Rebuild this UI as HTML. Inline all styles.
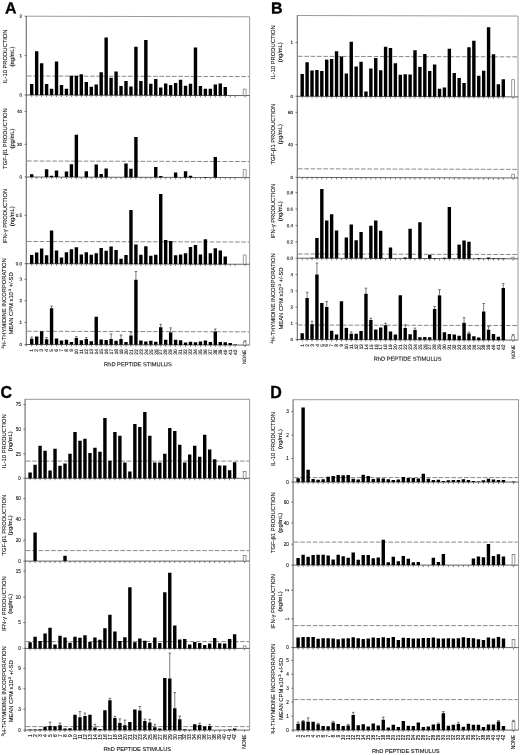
<!DOCTYPE html>
<html lang="en">
<head>
<meta charset="utf-8">
<title>RhD peptide stimulus figure</title>
<style>
html,body{margin:0;padding:0;background:#fff;}
body{width:520px;height:755px;overflow:hidden;}
svg{display:block;filter:blur(.35px);}
text{font-family:"Liberation Sans",Arial,Helvetica,sans-serif;fill:#111;stroke:#111;stroke-width:.1;}
.fr{fill:none;stroke:#6e6e6e;stroke-width:.7;}
.ax{fill:none;stroke:#727272;stroke-width:1.15;}
.bl{fill:none;stroke:#3a3a3a;stroke-width:.8;}
.tk{fill:none;stroke:#555;stroke-width:.75;}
.yt{fill:none;stroke:#444;stroke-width:.7;}
.ds{fill:none;stroke:#383838;stroke-width:.6;stroke-dasharray:4.6 1.7;}
.b{fill:#000;}
.nb{fill:#fff;stroke:#555;stroke-width:.6;}
.eb{fill:none;stroke:#333;stroke-width:.65;}
.tl{font-size:4.6px;text-anchor:end;}
.tr{font-size:4.6px;text-anchor:middle;}
.yl{font-size:5.8px;text-anchor:middle;}
.su{font-size:3.6px;}
.xl{font-size:4.9px;text-anchor:end;}
.xt{font-size:5.7px;text-anchor:middle;}
.pl{font-size:16px;font-weight:bold;fill:#000;stroke:#000;stroke-width:.3;}
</style>
</head>
<body>
<svg width="520" height="755" viewBox="0 0 520 755">
<rect x="0" y="0" width="520" height="755" fill="#fff"/>
<g transform="translate(26.3 0) skewY(0.15) translate(-26.3 0)">
<path class="fr" d="M26.3 16.2H249.6V344.5"/>
<path class="ax" d="M26.3 15.9V346.3"/>
<path class="ds" d="M27.1 76H249"/>
<path class="bl" d="M26.3 95H249.6"/>
<path class="tk" d="M31.71 95v1.9M36.67 95v1.9M41.64 95v1.9M46.6 95v1.9M51.56 95v1.9M56.52 95v1.9M61.49 95v1.9M66.45 95v1.9M71.41 95v1.9M76.37 95v1.9M81.33 95v1.9M86.3 95v1.9M91.26 95v1.9M96.22 95v1.9M101.18 95v1.9M106.15 95v1.9M111.11 95v1.9M116.07 95v1.9M121.03 95v1.9M125.99 95v1.9M130.96 95v1.9M135.92 95v1.9M140.88 95v1.9M145.84 95v1.9M150.81 95v1.9M155.77 95v1.9M160.73 95v1.9M165.69 95v1.9M170.65 95v1.9M175.62 95v1.9M180.58 95v1.9M185.54 95v1.9M190.5 95v1.9M195.47 95v1.9M200.43 95v1.9M205.39 95v1.9M210.35 95v1.9M215.31 95v1.9M220.28 95v1.9M225.24 95v1.9M230.2 95v1.9M235.16 95v1.9M245.09 95v1.9"/>
<path class="b" d="M30.01 84h3.4v11h-3.4zM34.97 51.25h3.4v43.75h-3.4zM39.94 63.25h3.4v31.75h-3.4zM44.9 84h3.4v11h-3.4zM49.86 88.75h3.4v6.25h-3.4zM54.82 61.5h3.4v33.5h-3.4zM59.79 85h3.4v10h-3.4zM64.75 88.75h3.4v6.25h-3.4zM69.71 75.75h3.4v19.25h-3.4zM74.67 75.5h3.4v19.5h-3.4zM79.63 74h3.4v21h-3.4zM84.6 81.75h3.4v13.25h-3.4zM89.56 86.5h3.4v8.5h-3.4zM94.52 84.25h3.4v10.75h-3.4zM99.48 72h3.4v23h-3.4zM104.45 37.25h3.4v57.75h-3.4zM109.41 77.5h3.4v17.5h-3.4zM114.37 71.25h3.4v23.75h-3.4zM119.33 85.75h3.4v9.25h-3.4zM124.29 80.75h3.4v14.25h-3.4zM129.26 86.25h3.4v8.75h-3.4zM134.22 46.5h3.4v48.5h-3.4zM139.18 80.75h3.4v14.25h-3.4zM144.14 39.75h3.4v55.25h-3.4zM149.11 83.5h3.4v11.5h-3.4zM154.07 78.75h3.4v16.25h-3.4zM159.03 87.25h3.4v7.75h-3.4zM163.99 83.25h3.4v11.75h-3.4zM168.95 84.75h3.4v10.25h-3.4zM173.92 82.5h3.4v12.5h-3.4zM178.88 79.25h3.4v15.75h-3.4zM183.84 85.25h3.4v9.75h-3.4zM188.8 83.25h3.4v11.75h-3.4zM193.77 47h3.4v48h-3.4zM198.73 85.5h3.4v9.5h-3.4zM203.69 88.25h3.4v6.75h-3.4zM208.65 88.25h3.4v6.75h-3.4zM213.61 84h3.4v11h-3.4zM218.58 83h3.4v12h-3.4zM223.54 86.5h3.4v8.5h-3.4z"/>
<rect class="nb" x="243.29" y="88.5" width="2.8" height="6.5"/>
<path class="yt" d="M24.5 16.2h1.8"/>
<text class="tl" x="22.1" y="17.85">2</text>
<path class="yt" d="M24.5 55.6h1.8"/>
<text class="tl" x="22.1" y="57.25">1</text>
<path class="yt" d="M24.5 95h1.8"/>
<text class="tl" x="22.1" y="96.65">0</text>
<path class="ds" d="M27.1 161H249"/>
<path class="bl" d="M26.3 177H249.6"/>
<path class="tk" d="M31.71 177v1.9M36.67 177v1.9M41.64 177v1.9M46.6 177v1.9M51.56 177v1.9M56.52 177v1.9M61.49 177v1.9M66.45 177v1.9M71.41 177v1.9M76.37 177v1.9M81.33 177v1.9M86.3 177v1.9M91.26 177v1.9M96.22 177v1.9M101.18 177v1.9M106.15 177v1.9M111.11 177v1.9M116.07 177v1.9M121.03 177v1.9M125.99 177v1.9M130.96 177v1.9M135.92 177v1.9M140.88 177v1.9M145.84 177v1.9M150.81 177v1.9M155.77 177v1.9M160.73 177v1.9M165.69 177v1.9M170.65 177v1.9M175.62 177v1.9M180.58 177v1.9M185.54 177v1.9M190.5 177v1.9M195.47 177v1.9M200.43 177v1.9M205.39 177v1.9M210.35 177v1.9M215.31 177v1.9M220.28 177v1.9M225.24 177v1.9M230.2 177v1.9M235.16 177v1.9M245.09 177v1.9"/>
<path class="b" d="M30.01 174.25h3.4v2.75h-3.4zM44.9 169.25h3.4v7.75h-3.4zM49.86 175.75h3.4v1.25h-3.4zM54.82 170.5h3.4v6.5h-3.4zM64.75 171.5h3.4v5.5h-3.4zM69.71 164.25h3.4v12.75h-3.4zM74.67 134.5h3.4v42.5h-3.4zM84.6 171h3.4v6h-3.4zM94.52 164.25h3.4v12.75h-3.4zM99.48 173.75h3.4v3.25h-3.4zM104.45 168.25h3.4v8.75h-3.4zM124.29 163.25h3.4v13.75h-3.4zM129.26 168.5h3.4v8.5h-3.4zM134.22 136.75h3.4v40.25h-3.4zM154.07 166.75h3.4v10.25h-3.4zM159.03 175.75h3.4v1.25h-3.4zM173.92 172h3.4v5h-3.4zM183.84 170.75h3.4v6.25h-3.4zM188.8 175.25h3.4v1.75h-3.4zM203.69 176.5h3.4v0.5h-3.4zM213.61 156.5h3.4v20.5h-3.4z"/>
<rect class="nb" x="243.29" y="169" width="2.8" height="8"/>
<path class="yt" d="M24.5 111.4h1.8"/>
<text class="tl" x="22.1" y="113.05">40</text>
<path class="yt" d="M24.5 144.3h1.8"/>
<text class="tl" x="22.1" y="145.95">20</text>
<path class="yt" d="M24.5 177h1.8"/>
<text class="tl" x="22.1" y="178.65">0</text>
<path class="ds" d="M27.1 241.45H249"/>
<path class="bl" d="M26.3 263.7H249.6"/>
<path class="tk" d="M31.71 263.7v1.9M36.67 263.7v1.9M41.64 263.7v1.9M46.6 263.7v1.9M51.56 263.7v1.9M56.52 263.7v1.9M61.49 263.7v1.9M66.45 263.7v1.9M71.41 263.7v1.9M76.37 263.7v1.9M81.33 263.7v1.9M86.3 263.7v1.9M91.26 263.7v1.9M96.22 263.7v1.9M101.18 263.7v1.9M106.15 263.7v1.9M111.11 263.7v1.9M116.07 263.7v1.9M121.03 263.7v1.9M125.99 263.7v1.9M130.96 263.7v1.9M135.92 263.7v1.9M140.88 263.7v1.9M145.84 263.7v1.9M150.81 263.7v1.9M155.77 263.7v1.9M160.73 263.7v1.9M165.69 263.7v1.9M170.65 263.7v1.9M175.62 263.7v1.9M180.58 263.7v1.9M185.54 263.7v1.9M190.5 263.7v1.9M195.47 263.7v1.9M200.43 263.7v1.9M205.39 263.7v1.9M210.35 263.7v1.9M215.31 263.7v1.9M220.28 263.7v1.9M225.24 263.7v1.9M230.2 263.7v1.9M235.16 263.7v1.9M245.09 263.7v1.9"/>
<path class="b" d="M30.01 254.95h3.4v8.75h-3.4zM34.97 252.45h3.4v11.25h-3.4zM39.94 248.45h3.4v15.25h-3.4zM44.9 255.2h3.4v8.5h-3.4zM49.86 230.45h3.4v33.25h-3.4zM54.82 250.45h3.4v13.25h-3.4zM59.79 257.45h3.4v6.25h-3.4zM64.75 252.2h3.4v11.5h-3.4zM69.71 249.2h3.4v14.5h-3.4zM74.67 247.2h3.4v16.5h-3.4zM79.63 254.45h3.4v9.25h-3.4zM84.6 252.2h3.4v11.5h-3.4zM89.56 254.7h3.4v9h-3.4zM94.52 252.95h3.4v10.75h-3.4zM99.48 247.7h3.4v16h-3.4zM104.45 250.45h3.4v13.25h-3.4zM109.41 246.2h3.4v17.5h-3.4zM114.37 249.7h3.4v14h-3.4zM119.33 258.45h3.4v5.25h-3.4zM124.29 254.7h3.4v9h-3.4zM129.26 209.7h3.4v54h-3.4zM134.22 244.2h3.4v19.5h-3.4zM139.18 254.45h3.4v9.25h-3.4zM144.14 245.95h3.4v17.75h-3.4zM149.11 255.45h3.4v8.25h-3.4zM154.07 254.45h3.4v9.25h-3.4zM159.03 193.7h3.4v70h-3.4zM163.99 239.7h3.4v24h-3.4zM168.95 240.7h3.4v23h-3.4zM173.92 254.95h3.4v8.75h-3.4zM178.88 254.2h3.4v9.5h-3.4zM183.84 252.95h3.4v10.75h-3.4zM188.8 246.45h3.4v17.25h-3.4zM193.77 244.45h3.4v19.25h-3.4zM198.73 253.95h3.4v9.75h-3.4zM203.69 238.7h3.4v25h-3.4zM208.65 252.7h3.4v11h-3.4zM213.61 247.7h3.4v16h-3.4zM218.58 249.95h3.4v13.75h-3.4zM223.54 255.95h3.4v7.75h-3.4z"/>
<rect class="nb" x="243.29" y="254.45" width="2.8" height="9.25"/>
<path class="yt" d="M24.5 215.3h1.8"/>
<text class="tl" x="22.1" y="216.95">0.5</text>
<path class="yt" d="M24.5 263.7h1.8"/>
<text class="tl" x="22.1" y="265.35">0.0</text>
<path class="ds" d="M27.1 331.25H249"/>
<path class="bl" d="M26.3 344.5H249.6"/>
<path class="tk" d="M31.71 344.5v1.9M36.67 344.5v1.9M41.64 344.5v1.9M46.6 344.5v1.9M51.56 344.5v1.9M56.52 344.5v1.9M61.49 344.5v1.9M66.45 344.5v1.9M71.41 344.5v1.9M76.37 344.5v1.9M81.33 344.5v1.9M86.3 344.5v1.9M91.26 344.5v1.9M96.22 344.5v1.9M101.18 344.5v1.9M106.15 344.5v1.9M111.11 344.5v1.9M116.07 344.5v1.9M121.03 344.5v1.9M125.99 344.5v1.9M130.96 344.5v1.9M135.92 344.5v1.9M140.88 344.5v1.9M145.84 344.5v1.9M150.81 344.5v1.9M155.77 344.5v1.9M160.73 344.5v1.9M165.69 344.5v1.9M170.65 344.5v1.9M175.62 344.5v1.9M180.58 344.5v1.9M185.54 344.5v1.9M190.5 344.5v1.9M195.47 344.5v1.9M200.43 344.5v1.9M205.39 344.5v1.9M210.35 344.5v1.9M215.31 344.5v1.9M220.28 344.5v1.9M225.24 344.5v1.9M230.2 344.5v1.9M235.16 344.5v1.9M245.09 344.5v1.9"/>
<path class="b" d="M30.01 338.75h3.4v5.75h-3.4zM34.97 336.5h3.4v8h-3.4zM39.94 331.25h3.4v13.25h-3.4zM44.9 339.25h3.4v5.25h-3.4zM49.86 308.25h3.4v36.25h-3.4zM54.82 338.5h3.4v6h-3.4zM59.79 340.5h3.4v4h-3.4zM64.75 339.75h3.4v4.75h-3.4zM69.71 342h3.4v2.5h-3.4zM74.67 337.75h3.4v6.75h-3.4zM79.63 340h3.4v4.5h-3.4zM84.6 338.75h3.4v5.75h-3.4zM89.56 341h3.4v3.5h-3.4zM94.52 316.5h3.4v28h-3.4zM99.48 339.25h3.4v5.25h-3.4zM104.45 339.75h3.4v4.75h-3.4zM109.41 338.75h3.4v5.75h-3.4zM114.37 340.5h3.4v4h-3.4zM119.33 338.75h3.4v5.75h-3.4zM124.29 341.75h3.4v2.75h-3.4zM129.26 335.25h3.4v9.25h-3.4zM134.22 279.5h3.4v65h-3.4zM139.18 340.25h3.4v4.25h-3.4zM144.14 341.25h3.4v3.25h-3.4zM149.11 340.5h3.4v4h-3.4zM154.07 341.5h3.4v3h-3.4zM159.03 327h3.4v17.5h-3.4zM163.99 339.5h3.4v5h-3.4zM168.95 332h3.4v12.5h-3.4zM173.92 339.25h3.4v5.25h-3.4zM178.88 339.75h3.4v4.75h-3.4zM183.84 342h3.4v2.5h-3.4zM188.8 341.25h3.4v3.25h-3.4zM193.77 341.75h3.4v2.75h-3.4zM198.73 341h3.4v3.5h-3.4zM203.69 340h3.4v4.5h-3.4zM208.65 341.5h3.4v3h-3.4zM213.61 331h3.4v13.5h-3.4zM218.58 341.5h3.4v3h-3.4zM223.54 341.75h3.4v2.75h-3.4zM228.5 342.5h3.4v2h-3.4zM233.46 344h3.4v0.5h-3.4z"/>
<rect class="nb" x="243.29" y="341.25" width="2.8" height="3.25"/>
<path class="yt" d="M24.5 279.25h1.8"/>
<text class="tl" x="22.1" y="280.9">3</text>
<path class="yt" d="M24.5 300.75h1.8"/>
<text class="tl" x="22.1" y="302.4">2</text>
<path class="yt" d="M24.5 322.5h1.8"/>
<text class="tl" x="22.1" y="324.15">1</text>
<path class="yt" d="M24.5 344.5h1.8"/>
<text class="tl" x="22.1" y="346.15">0</text>
<path class="eb" d="M31.71 338.75v-1.75m-1.3 0h2.6M46.6 339.25v-1.75m-1.3 0h2.6M51.56 308.25v-2.25m-1.3 0h2.6M76.37 337.75v-1.25m-1.3 0h2.6M86.3 338.75v-1.25m-1.3 0h2.6M111.11 338.75v-5m-1.3 0h2.6M121.03 338.75v-4m-1.3 0h2.6M130.96 335.25v-3.25m-1.3 0h2.6M135.92 279.5v-8.25m-1.3 0h2.6M160.73 327v-3m-1.3 0h2.6M170.65 332v-4.5m-1.3 0h2.6M215.31 331v-2.5m-1.3 0h2.6M245.09 341.25v-1m-1.3 0h2.6"/>
<text class="yl" transform="translate(7.2 56.5) rotate(-90)">IL-10 PRODUCTION</text>
<text class="yl" transform="translate(13.9 56.5) rotate(-90)">(ng/mL)</text>
<text class="yl" transform="translate(7.2 138.6) rotate(-90)">TGF-β1 PRODUCTION</text>
<text class="yl" transform="translate(13.9 138.6) rotate(-90)">(pg/mL)</text>
<text class="yl" transform="translate(7.2 216.3) rotate(-90)">IFN-γ PRODUCTION</text>
<text class="yl" transform="translate(13.9 216.3) rotate(-90)">(ng/mL)</text>
<text class="yl" transform="translate(6 303.4) rotate(-90)"><tspan class="su" dy="-1.8">3</tspan><tspan dy="1.8">H-THYMIDINE INCORPORATION</tspan></text>
<text class="yl" transform="translate(13 303.4) rotate(-90)">MEAN CPM x10<tspan class="su" dy="-1.8">-3</tspan><tspan dy="1.8"> +/-SD</tspan></text>
<text class="xl" transform="translate(33.46 348.9) rotate(-90)">1</text>
<text class="xl" transform="translate(38.42 348.9) rotate(-90)">2</text>
<text class="xl" transform="translate(43.39 348.9) rotate(-90)">3</text>
<text class="xl" transform="translate(48.35 348.9) rotate(-90)">4</text>
<text class="xl" transform="translate(53.31 348.9) rotate(-90)">5</text>
<text class="xl" transform="translate(58.27 348.9) rotate(-90)">6</text>
<text class="xl" transform="translate(63.24 348.9) rotate(-90)">7</text>
<text class="xl" transform="translate(68.2 348.9) rotate(-90)">8</text>
<text class="xl" transform="translate(73.16 348.9) rotate(-90)">9</text>
<text class="xl" transform="translate(78.12 348.9) rotate(-90)">10</text>
<text class="xl" transform="translate(83.08 348.9) rotate(-90)">11</text>
<text class="xl" transform="translate(88.05 348.9) rotate(-90)">12</text>
<text class="xl" transform="translate(93.01 348.9) rotate(-90)">13</text>
<text class="xl" transform="translate(97.97 348.9) rotate(-90)">14</text>
<text class="xl" transform="translate(102.93 348.9) rotate(-90)">15</text>
<text class="xl" transform="translate(107.9 348.9) rotate(-90)">16</text>
<text class="xl" transform="translate(112.86 348.9) rotate(-90)">17</text>
<text class="xl" transform="translate(117.82 348.9) rotate(-90)">18</text>
<text class="xl" transform="translate(122.78 348.9) rotate(-90)">19</text>
<text class="xl" transform="translate(127.74 348.9) rotate(-90)">20</text>
<text class="xl" transform="translate(132.71 348.9) rotate(-90)">21</text>
<text class="xl" transform="translate(137.67 348.9) rotate(-90)">22</text>
<text class="xl" transform="translate(142.63 348.9) rotate(-90)">23</text>
<text class="xl" transform="translate(147.59 348.9) rotate(-90)">24</text>
<text class="xl" transform="translate(152.56 348.9) rotate(-90)">25</text>
<text class="xl" transform="translate(157.52 348.9) rotate(-90)">26</text>
<text class="xl" transform="translate(162.48 348.9) rotate(-90)">27</text>
<text class="xl" transform="translate(167.44 348.9) rotate(-90)">28</text>
<text class="xl" transform="translate(172.4 348.9) rotate(-90)">29</text>
<text class="xl" transform="translate(177.37 348.9) rotate(-90)">30</text>
<text class="xl" transform="translate(182.33 348.9) rotate(-90)">31</text>
<text class="xl" transform="translate(187.29 348.9) rotate(-90)">32</text>
<text class="xl" transform="translate(192.25 348.9) rotate(-90)">33</text>
<text class="xl" transform="translate(197.22 348.9) rotate(-90)">34</text>
<text class="xl" transform="translate(202.18 348.9) rotate(-90)">35</text>
<text class="xl" transform="translate(207.14 348.9) rotate(-90)">36</text>
<text class="xl" transform="translate(212.1 348.9) rotate(-90)">37</text>
<text class="xl" transform="translate(217.06 348.9) rotate(-90)">38</text>
<text class="xl" transform="translate(222.03 348.9) rotate(-90)">39</text>
<text class="xl" transform="translate(226.99 348.9) rotate(-90)">40</text>
<text class="xl" transform="translate(231.95 348.9) rotate(-90)">41</text>
<text class="xl" transform="translate(236.91 348.9) rotate(-90)">42</text>
<text class="xl" transform="translate(246.44 349.2) rotate(-90)">NONE</text>
<text class="xt" x="137.95" y="366">RhD PEPTIDE STIMULUS</text>
<text class="pl" x="5" y="13.6">A</text>
</g>
<g transform="translate(297.3 0) skewY(0.15) translate(-297.3 0)">
<path class="fr" d="M297.3 15.5H518V339.5"/>
<path class="ax" d="M297.3 15.2V341.3"/>
<path class="ds" d="M298.1 56.3H517.4"/>
<path class="bl" d="M297.3 96.3H518"/>
<path class="tk" d="M302.2 96.3v1.9M307.11 96.3v1.9M312.01 96.3v1.9M316.92 96.3v1.9M321.82 96.3v1.9M326.73 96.3v1.9M331.63 96.3v1.9M336.54 96.3v1.9M341.44 96.3v1.9M346.34 96.3v1.9M351.25 96.3v1.9M356.15 96.3v1.9M361.06 96.3v1.9M365.96 96.3v1.9M370.87 96.3v1.9M375.77 96.3v1.9M380.68 96.3v1.9M385.58 96.3v1.9M390.48 96.3v1.9M395.39 96.3v1.9M400.29 96.3v1.9M405.2 96.3v1.9M410.1 96.3v1.9M415.01 96.3v1.9M419.91 96.3v1.9M424.82 96.3v1.9M429.72 96.3v1.9M434.62 96.3v1.9M439.53 96.3v1.9M444.43 96.3v1.9M449.34 96.3v1.9M454.24 96.3v1.9M459.15 96.3v1.9M464.05 96.3v1.9M468.96 96.3v1.9M473.86 96.3v1.9M478.76 96.3v1.9M483.67 96.3v1.9M488.57 96.3v1.9M493.48 96.3v1.9M498.38 96.3v1.9M503.29 96.3v1.9M513.1 96.3v1.9"/>
<path class="b" d="M300.5 74.05h3.4v22.25h-3.4zM305.41 62.3h3.4v34h-3.4zM310.31 70.55h3.4v25.75h-3.4zM315.22 70.05h3.4v26.25h-3.4zM320.12 71.05h3.4v25.25h-3.4zM325.03 59.55h3.4v36.75h-3.4zM329.93 58.8h3.4v37.5h-3.4zM334.84 51.05h3.4v45.25h-3.4zM339.74 56.3h3.4v40h-3.4zM344.64 73.3h3.4v23h-3.4zM349.55 41.55h3.4v54.75h-3.4zM354.45 66.3h3.4v30h-3.4zM359.36 61.55h3.4v34.75h-3.4zM364.26 91.3h3.4v5h-3.4zM369.17 68.3h3.4v28h-3.4zM374.07 57.8h3.4v38.5h-3.4zM378.98 70.05h3.4v26.25h-3.4zM383.88 46.55h3.4v49.75h-3.4zM388.78 47.8h3.4v48.5h-3.4zM393.69 63.05h3.4v33.25h-3.4zM398.59 74.55h3.4v21.75h-3.4zM403.5 74.05h3.4v22.25h-3.4zM408.4 74.3h3.4v22h-3.4zM413.31 50.05h3.4v46.25h-3.4zM418.21 66.55h3.4v29.75h-3.4zM423.12 53.55h3.4v42.75h-3.4zM428.02 70.55h3.4v25.75h-3.4zM432.92 64.05h3.4v32.25h-3.4zM437.83 88.3h3.4v8h-3.4zM442.73 87.05h3.4v9.25h-3.4zM447.64 48.3h3.4v48h-3.4zM452.54 72.55h3.4v23.75h-3.4zM457.45 77.55h3.4v18.75h-3.4zM462.35 82.55h3.4v13.75h-3.4zM467.26 46.8h3.4v49.5h-3.4zM472.16 40.3h3.4v56h-3.4zM477.06 75.3h3.4v21h-3.4zM481.97 70.3h3.4v26h-3.4zM486.87 26.8h3.4v69.5h-3.4zM491.78 53.8h3.4v42.5h-3.4zM496.68 83.8h3.4v12.5h-3.4zM501.59 78.8h3.4v17.5h-3.4z"/>
<rect class="nb" x="511.7" y="79.05" width="2.8" height="17.25"/>
<path class="yt" d="M295.5 42.5h1.8"/>
<text class="tl" x="293.1" y="44.15">1</text>
<path class="yt" d="M295.5 96.3h1.8"/>
<text class="tl" x="293.1" y="97.95">0</text>
<path class="ds" d="M298.1 168.8H517.4"/>
<path class="bl" d="M297.3 177.4H518"/>
<path class="tk" d="M302.2 177.4v1.9M307.11 177.4v1.9M312.01 177.4v1.9M316.92 177.4v1.9M321.82 177.4v1.9M326.73 177.4v1.9M331.63 177.4v1.9M336.54 177.4v1.9M341.44 177.4v1.9M346.34 177.4v1.9M351.25 177.4v1.9M356.15 177.4v1.9M361.06 177.4v1.9M365.96 177.4v1.9M370.87 177.4v1.9M375.77 177.4v1.9M380.68 177.4v1.9M385.58 177.4v1.9M390.48 177.4v1.9M395.39 177.4v1.9M400.29 177.4v1.9M405.2 177.4v1.9M410.1 177.4v1.9M415.01 177.4v1.9M419.91 177.4v1.9M424.82 177.4v1.9M429.72 177.4v1.9M434.62 177.4v1.9M439.53 177.4v1.9M444.43 177.4v1.9M449.34 177.4v1.9M454.24 177.4v1.9M459.15 177.4v1.9M464.05 177.4v1.9M468.96 177.4v1.9M473.86 177.4v1.9M478.76 177.4v1.9M483.67 177.4v1.9M488.57 177.4v1.9M493.48 177.4v1.9M498.38 177.4v1.9M503.29 177.4v1.9M513.1 177.4v1.9"/>
<rect class="nb" x="511.7" y="173.65" width="2.8" height="3.75"/>
<path class="yt" d="M295.5 112.3h1.8"/>
<text class="tl" x="293.1" y="113.95">80</text>
<path class="yt" d="M295.5 144.6h1.8"/>
<text class="tl" x="293.1" y="146.25">40</text>
<path class="yt" d="M295.5 177.4h1.8"/>
<text class="tl" x="293.1" y="179.05">0</text>
<path class="ds" d="M298.1 253.95H517.4"/>
<path class="bl" d="M297.3 258.2H518"/>
<path class="tk" d="M302.2 258.2v1.9M307.11 258.2v1.9M312.01 258.2v1.9M316.92 258.2v1.9M321.82 258.2v1.9M326.73 258.2v1.9M331.63 258.2v1.9M336.54 258.2v1.9M341.44 258.2v1.9M346.34 258.2v1.9M351.25 258.2v1.9M356.15 258.2v1.9M361.06 258.2v1.9M365.96 258.2v1.9M370.87 258.2v1.9M375.77 258.2v1.9M380.68 258.2v1.9M385.58 258.2v1.9M390.48 258.2v1.9M395.39 258.2v1.9M400.29 258.2v1.9M405.2 258.2v1.9M410.1 258.2v1.9M415.01 258.2v1.9M419.91 258.2v1.9M424.82 258.2v1.9M429.72 258.2v1.9M434.62 258.2v1.9M439.53 258.2v1.9M444.43 258.2v1.9M449.34 258.2v1.9M454.24 258.2v1.9M459.15 258.2v1.9M464.05 258.2v1.9M468.96 258.2v1.9M473.86 258.2v1.9M478.76 258.2v1.9M483.67 258.2v1.9M488.57 258.2v1.9M493.48 258.2v1.9M498.38 258.2v1.9M503.29 258.2v1.9M513.1 258.2v1.9"/>
<path class="b" d="M310.31 257.7h3.4v0.5h-3.4zM315.22 237.95h3.4v20.25h-3.4zM320.12 188.95h3.4v69.25h-3.4zM325.03 220.45h3.4v37.75h-3.4zM329.93 214.2h3.4v44h-3.4zM334.84 230.45h3.4v27.75h-3.4zM344.64 237.45h3.4v20.75h-3.4zM349.55 224.45h3.4v33.75h-3.4zM354.45 240.2h3.4v18h-3.4zM359.36 231.95h3.4v26.25h-3.4zM369.17 225.45h3.4v32.75h-3.4zM374.07 220.2h3.4v38h-3.4zM378.98 230.45h3.4v27.75h-3.4zM388.78 247.2h3.4v11h-3.4zM403.5 257.1h3.4v1.1h-3.4zM408.4 228.45h3.4v29.75h-3.4zM418.21 221.95h3.4v36.25h-3.4zM428.02 254.45h3.4v3.75h-3.4zM432.92 257.7h3.4v0.5h-3.4zM442.73 257.45h3.4v0.75h-3.4zM447.64 206.7h3.4v51.5h-3.4zM457.45 244.2h3.4v14h-3.4zM462.35 239.95h3.4v18.25h-3.4zM467.26 241.2h3.4v17h-3.4zM477.06 257.45h3.4v0.75h-3.4zM486.87 256.95h3.4v1.25h-3.4zM491.78 257.8h3.4v0.4h-3.4zM496.68 257.8h3.4v0.4h-3.4zM501.59 257.8h3.4v0.4h-3.4z"/>
<rect class="nb" x="511.7" y="256.7" width="2.8" height="1.5"/>
<path class="yt" d="M295.5 192.6h1.8"/>
<text class="tl" x="293.1" y="194.25">0.8</text>
<path class="yt" d="M295.5 209.1h1.8"/>
<text class="tl" x="293.1" y="210.75">0.6</text>
<path class="yt" d="M295.5 225.6h1.8"/>
<text class="tl" x="293.1" y="227.25">0.4</text>
<path class="yt" d="M295.5 241.9h1.8"/>
<text class="tl" x="293.1" y="243.55">0.2</text>
<path class="yt" d="M295.5 258.2h1.8"/>
<text class="tl" x="293.1" y="259.85">0.0</text>
<path class="ds" d="M298.1 325H517.4"/>
<path class="bl" d="M297.3 339.5H518"/>
<path class="tk" d="M302.2 339.5v1.9M307.11 339.5v1.9M312.01 339.5v1.9M316.92 339.5v1.9M321.82 339.5v1.9M326.73 339.5v1.9M331.63 339.5v1.9M336.54 339.5v1.9M341.44 339.5v1.9M346.34 339.5v1.9M351.25 339.5v1.9M356.15 339.5v1.9M361.06 339.5v1.9M365.96 339.5v1.9M370.87 339.5v1.9M375.77 339.5v1.9M380.68 339.5v1.9M385.58 339.5v1.9M390.48 339.5v1.9M395.39 339.5v1.9M400.29 339.5v1.9M405.2 339.5v1.9M410.1 339.5v1.9M415.01 339.5v1.9M419.91 339.5v1.9M424.82 339.5v1.9M429.72 339.5v1.9M434.62 339.5v1.9M439.53 339.5v1.9M444.43 339.5v1.9M449.34 339.5v1.9M454.24 339.5v1.9M459.15 339.5v1.9M464.05 339.5v1.9M468.96 339.5v1.9M473.86 339.5v1.9M478.76 339.5v1.9M483.67 339.5v1.9M488.57 339.5v1.9M493.48 339.5v1.9M498.38 339.5v1.9M503.29 339.5v1.9M513.1 339.5v1.9"/>
<path class="b" d="M300.5 333.25h3.4v6.25h-3.4zM305.41 298h3.4v41.5h-3.4zM310.31 324.25h3.4v15.25h-3.4zM315.22 274.5h3.4v65h-3.4zM320.12 303h3.4v36.5h-3.4zM325.03 307h3.4v32.5h-3.4zM329.93 330.75h3.4v8.75h-3.4zM334.84 334.5h3.4v5h-3.4zM339.74 301.25h3.4v38.25h-3.4zM344.64 327.75h3.4v11.75h-3.4zM349.55 333.5h3.4v6h-3.4zM354.45 333.5h3.4v6h-3.4zM359.36 330.75h3.4v8.75h-3.4zM364.26 293.5h3.4v46h-3.4zM369.17 319.75h3.4v19.75h-3.4zM374.07 329.25h3.4v10.25h-3.4zM378.98 327.25h3.4v12.25h-3.4zM383.88 325h3.4v14.5h-3.4zM388.78 331.25h3.4v8.25h-3.4zM393.69 334.25h3.4v5.25h-3.4zM398.59 295h3.4v44.5h-3.4zM403.5 327.75h3.4v11.75h-3.4zM408.4 334h3.4v5.5h-3.4zM413.31 329.75h3.4v9.75h-3.4zM418.21 337h3.4v2.5h-3.4zM423.12 336.75h3.4v2.75h-3.4zM428.02 337h3.4v2.5h-3.4zM432.92 308.75h3.4v30.75h-3.4zM437.83 295h3.4v44.5h-3.4zM442.73 331.75h3.4v7.75h-3.4zM447.64 333.5h3.4v6h-3.4zM452.54 334h3.4v5.5h-3.4zM457.45 335.25h3.4v4.25h-3.4zM462.35 322.25h3.4v17.25h-3.4zM467.26 333h3.4v6.5h-3.4zM472.16 335.75h3.4v3.75h-3.4zM477.06 337h3.4v2.5h-3.4zM481.97 311h3.4v28.5h-3.4zM486.87 329.25h3.4v10.25h-3.4zM491.78 333.5h3.4v6h-3.4zM496.68 336.25h3.4v3.25h-3.4zM501.59 287.5h3.4v52h-3.4z"/>
<rect class="nb" x="511.7" y="335.25" width="2.8" height="4.25"/>
<path class="yt" d="M295.5 274.6h1.8"/>
<text class="tl" x="293.1" y="276.25">4</text>
<path class="yt" d="M295.5 290.9h1.8"/>
<text class="tl" x="293.1" y="292.55">3</text>
<path class="yt" d="M295.5 307.2h1.8"/>
<text class="tl" x="293.1" y="308.85">2</text>
<path class="yt" d="M295.5 323.4h1.8"/>
<text class="tl" x="293.1" y="325.05">1</text>
<path class="yt" d="M295.5 339.5h1.8"/>
<text class="tl" x="293.1" y="341.15">0</text>
<path class="eb" d="M307.11 298v-5.75m-1.3 0h2.6M312.01 324.25v-3m-1.3 0h2.6M316.92 274.5v-11.5m-1.3 0h2.6M326.73 307v-5.5m-1.3 0h2.6M351.25 333.5v-1.75m-1.3 0h2.6M365.96 293.5v-5.5m-1.3 0h2.6M370.87 319.75v-1.75m-1.3 0h2.6M385.58 325v-2m-1.3 0h2.6M405.2 327.75v-3.25m-1.3 0h2.6M415.01 329.75v-2m-1.3 0h2.6M434.62 308.75v-2.5m-1.3 0h2.6M439.53 295v-5.75m-1.3 0h2.6M464.05 322.25v-5m-1.3 0h2.6M468.96 333v-1.25m-1.3 0h2.6M483.67 311v-8m-1.3 0h2.6M488.57 329.25v-3.25m-1.3 0h2.6M503.29 287.5v-4.5m-1.3 0h2.6M513.1 335.25v-1.25m-1.3 0h2.6"/>
<text class="yl" transform="translate(275.2 52.3) rotate(-90)">IL-10 PRODUCTION</text>
<text class="yl" transform="translate(282.1 52.3) rotate(-90)">(ng/mL)</text>
<text class="yl" transform="translate(275.2 134.2) rotate(-90)">TGF-β1 PRODUCTION</text>
<text class="yl" transform="translate(282.1 134.2) rotate(-90)">(pg/mL)</text>
<text class="yl" transform="translate(275.2 211.3) rotate(-90)">IFN-γ PRODUCTION</text>
<text class="yl" transform="translate(282.1 211.3) rotate(-90)">(ng/mL)</text>
<text class="yl" transform="translate(275.2 298.5) rotate(-90)"><tspan class="su" dy="-1.8">3</tspan><tspan dy="1.8">H-THYMIDINE INCORPORATION</tspan></text>
<text class="yl" transform="translate(282.8 298.5) rotate(-90)">MEAN CPM x10<tspan class="su" dy="-1.8">-3</tspan><tspan dy="1.8"> +/-SD</tspan></text>
<text class="xl" transform="translate(303.95 344) rotate(-90)">1</text>
<text class="xl" transform="translate(308.86 344) rotate(-90)">2</text>
<text class="xl" transform="translate(313.76 344) rotate(-90)">3</text>
<text class="xl" transform="translate(318.67 344) rotate(-90)">4</text>
<text class="xl" transform="translate(323.57 344) rotate(-90)">5</text>
<text class="xl" transform="translate(328.48 344) rotate(-90)">6</text>
<text class="xl" transform="translate(333.38 344) rotate(-90)">7</text>
<text class="xl" transform="translate(338.29 344) rotate(-90)">8</text>
<text class="xl" transform="translate(343.19 344) rotate(-90)">9</text>
<text class="xl" transform="translate(348.09 344) rotate(-90)">10</text>
<text class="xl" transform="translate(353 344) rotate(-90)">11</text>
<text class="xl" transform="translate(357.9 344) rotate(-90)">12</text>
<text class="xl" transform="translate(362.81 344) rotate(-90)">13</text>
<text class="xl" transform="translate(367.71 344) rotate(-90)">14</text>
<text class="xl" transform="translate(372.62 344) rotate(-90)">15</text>
<text class="xl" transform="translate(377.52 344) rotate(-90)">16</text>
<text class="xl" transform="translate(382.43 344) rotate(-90)">17</text>
<text class="xl" transform="translate(387.33 344) rotate(-90)">18</text>
<text class="xl" transform="translate(392.23 344) rotate(-90)">19</text>
<text class="xl" transform="translate(397.14 344) rotate(-90)">20</text>
<text class="xl" transform="translate(402.04 344) rotate(-90)">21</text>
<text class="xl" transform="translate(406.95 344) rotate(-90)">22</text>
<text class="xl" transform="translate(411.85 344) rotate(-90)">23</text>
<text class="xl" transform="translate(416.76 344) rotate(-90)">24</text>
<text class="xl" transform="translate(421.66 344) rotate(-90)">25</text>
<text class="xl" transform="translate(426.57 344) rotate(-90)">26</text>
<text class="xl" transform="translate(431.47 344) rotate(-90)">27</text>
<text class="xl" transform="translate(436.37 344) rotate(-90)">28</text>
<text class="xl" transform="translate(441.28 344) rotate(-90)">29</text>
<text class="xl" transform="translate(446.18 344) rotate(-90)">30</text>
<text class="xl" transform="translate(451.09 344) rotate(-90)">31</text>
<text class="xl" transform="translate(455.99 344) rotate(-90)">32</text>
<text class="xl" transform="translate(460.9 344) rotate(-90)">33</text>
<text class="xl" transform="translate(465.8 344) rotate(-90)">34</text>
<text class="xl" transform="translate(470.71 344) rotate(-90)">35</text>
<text class="xl" transform="translate(475.61 344) rotate(-90)">36</text>
<text class="xl" transform="translate(480.51 344) rotate(-90)">37</text>
<text class="xl" transform="translate(485.42 344) rotate(-90)">38</text>
<text class="xl" transform="translate(490.32 344) rotate(-90)">39</text>
<text class="xl" transform="translate(495.23 344) rotate(-90)">40</text>
<text class="xl" transform="translate(500.13 344) rotate(-90)">41</text>
<text class="xl" transform="translate(505.04 344) rotate(-90)">42</text>
<text class="xl" transform="translate(514.85 344.3) rotate(-90)">NONE</text>
<text class="xt" x="407.65" y="360.5">RhD PEPTIDE STIMULUS</text>
<text class="pl" x="271" y="13.6">B</text>
</g>
<g>
<path class="fr" d="M25.1 399.3H249.6V730.1"/>
<path class="ax" d="M25.1 399V731.9"/>
<path class="ds" d="M25.9 461.1H249"/>
<path class="bl" d="M25.1 478.3H249.6"/>
<path class="tk" d="M30.09 478.3v1.9M35.08 478.3v1.9M40.07 478.3v1.9M45.06 478.3v1.9M50.04 478.3v1.9M55.03 478.3v1.9M60.02 478.3v1.9M65.01 478.3v1.9M70 478.3v1.9M74.99 478.3v1.9M79.98 478.3v1.9M84.97 478.3v1.9M89.96 478.3v1.9M94.94 478.3v1.9M99.93 478.3v1.9M104.92 478.3v1.9M109.91 478.3v1.9M114.9 478.3v1.9M119.89 478.3v1.9M124.88 478.3v1.9M129.87 478.3v1.9M134.86 478.3v1.9M139.84 478.3v1.9M144.83 478.3v1.9M149.82 478.3v1.9M154.81 478.3v1.9M159.8 478.3v1.9M164.79 478.3v1.9M169.78 478.3v1.9M174.77 478.3v1.9M179.76 478.3v1.9M184.74 478.3v1.9M189.73 478.3v1.9M194.72 478.3v1.9M199.71 478.3v1.9M204.7 478.3v1.9M209.69 478.3v1.9M214.68 478.3v1.9M219.67 478.3v1.9M224.66 478.3v1.9M229.64 478.3v1.9M234.63 478.3v1.9M244.61 478.3v1.9"/>
<path class="b" d="M28.39 472.55h3.4v5.75h-3.4zM33.38 464.8h3.4v13.5h-3.4zM38.37 445.8h3.4v32.5h-3.4zM43.36 450.8h3.4v27.5h-3.4zM48.34 470.55h3.4v7.75h-3.4zM53.33 448.8h3.4v29.5h-3.4zM58.32 465.8h3.4v12.5h-3.4zM63.31 463.55h3.4v14.75h-3.4zM68.3 453.8h3.4v24.5h-3.4zM73.29 432.05h3.4v46.25h-3.4zM78.28 440.8h3.4v37.5h-3.4zM83.27 438.8h3.4v39.5h-3.4zM88.26 453.05h3.4v25.25h-3.4zM93.24 447.8h3.4v30.5h-3.4zM98.23 451.8h3.4v26.5h-3.4zM103.22 418.05h3.4v60.25h-3.4zM108.21 460.8h3.4v17.5h-3.4zM113.2 432.05h3.4v46.25h-3.4zM118.19 435.8h3.4v42.5h-3.4zM123.18 462.55h3.4v15.75h-3.4zM128.17 471.55h3.4v6.75h-3.4zM133.16 424.05h3.4v54.25h-3.4zM138.14 427.05h3.4v51.25h-3.4zM143.13 412.05h3.4v66.25h-3.4zM148.12 435.8h3.4v42.5h-3.4zM153.11 462.55h3.4v15.75h-3.4zM158.1 462.55h3.4v15.75h-3.4zM163.09 453.8h3.4v24.5h-3.4zM168.08 428.05h3.4v50.25h-3.4zM173.07 431.05h3.4v47.25h-3.4zM178.06 444.8h3.4v33.5h-3.4zM183.04 462.55h3.4v15.75h-3.4zM188.03 454.55h3.4v23.75h-3.4zM193.02 445.8h3.4v32.5h-3.4zM198.01 456.8h3.4v21.5h-3.4zM203 434.8h3.4v43.5h-3.4zM207.99 449.55h3.4v28.75h-3.4zM212.98 459.3h3.4v19h-3.4zM217.97 465.55h3.4v12.75h-3.4zM222.96 465.55h3.4v12.75h-3.4zM227.94 470.3h3.4v8h-3.4zM232.93 462.3h3.4v16h-3.4z"/>
<rect class="nb" x="243.21" y="471.3" width="2.8" height="7"/>
<path class="yt" d="M23.3 404.6h1.8"/>
<text class="tl" x="20.9" y="406.25">75</text>
<path class="yt" d="M23.3 429.1h1.8"/>
<text class="tl" x="20.9" y="430.75">50</text>
<path class="yt" d="M23.3 454h1.8"/>
<text class="tl" x="20.9" y="455.65">25</text>
<path class="yt" d="M23.3 478.3h1.8"/>
<text class="tl" x="20.9" y="479.95">0</text>
<path class="ds" d="M25.9 550.6H249"/>
<path class="bl" d="M25.1 561.1H249.6"/>
<path class="tk" d="M30.09 561.1v1.9M35.08 561.1v1.9M40.07 561.1v1.9M45.06 561.1v1.9M50.04 561.1v1.9M55.03 561.1v1.9M60.02 561.1v1.9M65.01 561.1v1.9M70 561.1v1.9M74.99 561.1v1.9M79.98 561.1v1.9M84.97 561.1v1.9M89.96 561.1v1.9M94.94 561.1v1.9M99.93 561.1v1.9M104.92 561.1v1.9M109.91 561.1v1.9M114.9 561.1v1.9M119.89 561.1v1.9M124.88 561.1v1.9M129.87 561.1v1.9M134.86 561.1v1.9M139.84 561.1v1.9M144.83 561.1v1.9M149.82 561.1v1.9M154.81 561.1v1.9M159.8 561.1v1.9M164.79 561.1v1.9M169.78 561.1v1.9M174.77 561.1v1.9M179.76 561.1v1.9M184.74 561.1v1.9M189.73 561.1v1.9M194.72 561.1v1.9M199.71 561.1v1.9M204.7 561.1v1.9M209.69 561.1v1.9M214.68 561.1v1.9M219.67 561.1v1.9M224.66 561.1v1.9M229.64 561.1v1.9M234.63 561.1v1.9M244.61 561.1v1.9"/>
<path class="b" d="M33.38 532.6h3.4v28.5h-3.4zM63.31 555.85h3.4v5.25h-3.4z"/>
<rect class="nb" x="243.21" y="555.6" width="2.8" height="5.5"/>
<path class="yt" d="M23.3 498.6h1.8"/>
<text class="tl" x="20.9" y="500.25">60</text>
<path class="yt" d="M23.3 519.6h1.8"/>
<text class="tl" x="20.9" y="521.25">40</text>
<path class="yt" d="M23.3 540.3h1.8"/>
<text class="tl" x="20.9" y="541.95">20</text>
<path class="yt" d="M23.3 561.1h1.8"/>
<text class="tl" x="20.9" y="562.75">0</text>
<path class="ds" d="M25.9 641.6H249"/>
<path class="bl" d="M25.1 648.4H249.6"/>
<path class="tk" d="M30.09 648.4v1.9M35.08 648.4v1.9M40.07 648.4v1.9M45.06 648.4v1.9M50.04 648.4v1.9M55.03 648.4v1.9M60.02 648.4v1.9M65.01 648.4v1.9M70 648.4v1.9M74.99 648.4v1.9M79.98 648.4v1.9M84.97 648.4v1.9M89.96 648.4v1.9M94.94 648.4v1.9M99.93 648.4v1.9M104.92 648.4v1.9M109.91 648.4v1.9M114.9 648.4v1.9M119.89 648.4v1.9M124.88 648.4v1.9M129.87 648.4v1.9M134.86 648.4v1.9M139.84 648.4v1.9M144.83 648.4v1.9M149.82 648.4v1.9M154.81 648.4v1.9M159.8 648.4v1.9M164.79 648.4v1.9M169.78 648.4v1.9M174.77 648.4v1.9M179.76 648.4v1.9M184.74 648.4v1.9M189.73 648.4v1.9M194.72 648.4v1.9M199.71 648.4v1.9M204.7 648.4v1.9M209.69 648.4v1.9M214.68 648.4v1.9M219.67 648.4v1.9M224.66 648.4v1.9M229.64 648.4v1.9M234.63 648.4v1.9M244.61 648.4v1.9"/>
<path class="b" d="M28.39 642.15h3.4v6.25h-3.4zM33.38 636.65h3.4v11.75h-3.4zM38.37 640.9h3.4v7.5h-3.4zM43.36 633.4h3.4v15h-3.4zM48.34 627.65h3.4v20.75h-3.4zM53.33 644.4h3.4v4h-3.4zM58.32 635.65h3.4v12.75h-3.4zM63.31 637.4h3.4v11h-3.4zM68.3 642.65h3.4v5.75h-3.4zM73.29 636.65h3.4v11.75h-3.4zM78.28 637.65h3.4v10.75h-3.4zM83.27 635.15h3.4v13.25h-3.4zM88.26 641.9h3.4v6.5h-3.4zM93.24 637.4h3.4v11h-3.4zM98.23 639.65h3.4v8.75h-3.4zM103.22 628.15h3.4v20.25h-3.4zM108.21 614.65h3.4v33.75h-3.4zM113.2 631.4h3.4v17h-3.4zM118.19 640.9h3.4v7.5h-3.4zM123.18 637.15h3.4v11.25h-3.4zM128.17 587.15h3.4v61.25h-3.4zM133.16 642.15h3.4v6.25h-3.4zM138.14 638.4h3.4v10h-3.4zM143.13 640.65h3.4v7.75h-3.4zM148.12 642.9h3.4v5.5h-3.4zM153.11 637.4h3.4v11h-3.4zM158.1 642.9h3.4v5.5h-3.4zM163.09 592.15h3.4v56.25h-3.4zM168.08 572.65h3.4v75.75h-3.4zM173.07 625.4h3.4v23h-3.4zM178.06 639.4h3.4v9h-3.4zM183.04 638.9h3.4v9.5h-3.4zM188.03 644.4h3.4v4h-3.4zM193.02 641.9h3.4v6.5h-3.4zM198.01 642.9h3.4v5.5h-3.4zM203 644.9h3.4v3.5h-3.4zM207.99 643.4h3.4v5h-3.4zM212.98 637.9h3.4v10.5h-3.4zM217.97 643.15h3.4v5.25h-3.4zM222.96 643.4h3.4v5h-3.4zM227.94 638.9h3.4v9.5h-3.4zM232.93 634.15h3.4v14.25h-3.4z"/>
<rect class="nb" x="243.21" y="645.9" width="2.8" height="2.5"/>
<path class="yt" d="M23.3 571.2h1.8"/>
<text class="tl" x="20.9" y="572.85">15</text>
<path class="yt" d="M23.3 597.1h1.8"/>
<text class="tl" x="20.9" y="598.75">10</text>
<path class="yt" d="M23.3 622.6h1.8"/>
<text class="tl" x="20.9" y="624.25">5</text>
<path class="yt" d="M23.3 648.3h1.8"/>
<text class="tl" x="20.9" y="649.95">0</text>
<path class="ds" d="M25.9 726.6H249"/>
<path class="bl" d="M25.1 730.1H249.6"/>
<path class="tk" d="M30.09 730.1v1.9M35.08 730.1v1.9M40.07 730.1v1.9M45.06 730.1v1.9M50.04 730.1v1.9M55.03 730.1v1.9M60.02 730.1v1.9M65.01 730.1v1.9M70 730.1v1.9M74.99 730.1v1.9M79.98 730.1v1.9M84.97 730.1v1.9M89.96 730.1v1.9M94.94 730.1v1.9M99.93 730.1v1.9M104.92 730.1v1.9M109.91 730.1v1.9M114.9 730.1v1.9M119.89 730.1v1.9M124.88 730.1v1.9M129.87 730.1v1.9M134.86 730.1v1.9M139.84 730.1v1.9M144.83 730.1v1.9M149.82 730.1v1.9M154.81 730.1v1.9M159.8 730.1v1.9M164.79 730.1v1.9M169.78 730.1v1.9M174.77 730.1v1.9M179.76 730.1v1.9M184.74 730.1v1.9M189.73 730.1v1.9M194.72 730.1v1.9M199.71 730.1v1.9M204.7 730.1v1.9M209.69 730.1v1.9M214.68 730.1v1.9M219.67 730.1v1.9M224.66 730.1v1.9M229.64 730.1v1.9M234.63 730.1v1.9M244.61 730.1v1.9"/>
<path class="b" d="M28.39 729.6h3.4v0.5h-3.4zM33.38 729.6h3.4v0.5h-3.4zM38.37 729.35h3.4v0.75h-3.4zM43.36 726.85h3.4v3.25h-3.4zM48.34 726.1h3.4v4h-3.4zM53.33 726.35h3.4v3.75h-3.4zM58.32 725.35h3.4v4.75h-3.4zM63.31 728.6h3.4v1.5h-3.4zM68.3 728.35h3.4v1.75h-3.4zM73.29 714.85h3.4v15.25h-3.4zM78.28 717.35h3.4v12.75h-3.4zM83.27 716.1h3.4v14h-3.4zM88.26 714.85h3.4v15.25h-3.4zM93.24 727.6h3.4v2.5h-3.4zM98.23 729.1h3.4v1h-3.4zM103.22 710.35h3.4v19.75h-3.4zM108.21 700.35h3.4v29.75h-3.4zM113.2 718.1h3.4v12h-3.4zM118.19 723.1h3.4v7h-3.4zM123.18 725.35h3.4v4.75h-3.4zM128.17 722.1h3.4v8h-3.4zM133.16 709.6h3.4v20.5h-3.4zM138.14 710.6h3.4v19.5h-3.4zM143.13 721.1h3.4v9h-3.4zM148.12 722.6h3.4v7.5h-3.4zM153.11 727.35h3.4v2.75h-3.4zM158.1 728.6h3.4v1.5h-3.4zM163.09 678.1h3.4v52h-3.4zM168.08 678.6h3.4v51.5h-3.4zM173.07 708.35h3.4v21.75h-3.4zM178.06 719.35h3.4v10.75h-3.4zM183.04 729.35h3.4v0.75h-3.4zM188.03 729.85h3.4v0.25h-3.4zM193.02 724.35h3.4v5.75h-3.4zM198.01 725.1h3.4v5h-3.4zM203 726.6h3.4v3.5h-3.4zM207.99 726.1h3.4v4h-3.4zM227.94 729.6h3.4v0.5h-3.4zM232.93 728.6h3.4v1.5h-3.4z"/>
<path class="yt" d="M23.3 668.4h1.8"/>
<text class="tl" x="20.9" y="670.05">9</text>
<path class="yt" d="M23.3 688.7h1.8"/>
<text class="tl" x="20.9" y="690.35">6</text>
<path class="yt" d="M23.3 709.2h1.8"/>
<text class="tl" x="20.9" y="710.85">3</text>
<path class="yt" d="M23.3 730.1h1.8"/>
<text class="tl" x="20.9" y="731.75">0</text>
<path class="eb" d="M50.04 726.1v-4m-1.3 0h2.6M60.02 725.35v-2.25m-1.3 0h2.6M79.98 717.35v-5.75m-1.3 0h2.6M84.97 716.1v-3m-1.3 0h2.6M94.94 727.6v-3.25m-1.3 0h2.6M109.91 700.35v-2m-1.3 0h2.6M114.9 718.1v-1.75m-1.3 0h2.6M119.89 723.1v-4.25m-1.3 0h2.6M124.88 725.35v-5.25m-1.3 0h2.6M139.84 710.6v-4.25m-1.3 0h2.6M144.83 721.1v-2m-1.3 0h2.6M149.82 722.6v-3.25m-1.3 0h2.6M154.81 727.35v-3m-1.3 0h2.6M169.78 678.6v-25.5m-1.3 0h2.6M174.77 708.35v-15.75m-1.3 0h2.6M179.76 719.35v-3.25m-1.3 0h2.6M199.71 725.1v-2m-1.3 0h2.6M209.69 726.1v-1.75m-1.3 0h2.6"/>
<text class="yl" transform="translate(5.9 441.3) rotate(-90)">IL-10 PRODUCTION</text>
<text class="yl" transform="translate(12.4 441.3) rotate(-90)">(ng/mL)</text>
<text class="yl" transform="translate(5.9 525.2) rotate(-90)">TGF-β1 PRODUCTION</text>
<text class="yl" transform="translate(12.4 525.2) rotate(-90)">(pg/mL)</text>
<text class="yl" transform="translate(5.9 603.7) rotate(-90)">IFN-γ PRODUCTION</text>
<text class="yl" transform="translate(12.4 603.7) rotate(-90)">(ng/mL)</text>
<text class="yl" transform="translate(6 691.3) rotate(-90)"><tspan class="su" dy="-1.8">3</tspan><tspan dy="1.8">H-THYMIDINE INCORPORATION</tspan></text>
<text class="yl" transform="translate(13.2 691.3) rotate(-90)">MEAN CPM x10<tspan class="su" dy="-1.8">-3</tspan><tspan dy="1.8"> +/-SD</tspan></text>
<text class="xl" transform="translate(31.84 734.2) rotate(-90)">1</text>
<text class="xl" transform="translate(36.83 734.2) rotate(-90)">2</text>
<text class="xl" transform="translate(41.82 734.2) rotate(-90)">3</text>
<text class="xl" transform="translate(46.81 734.2) rotate(-90)">4</text>
<text class="xl" transform="translate(51.79 734.2) rotate(-90)">5</text>
<text class="xl" transform="translate(56.78 734.2) rotate(-90)">6</text>
<text class="xl" transform="translate(61.77 734.2) rotate(-90)">7</text>
<text class="xl" transform="translate(66.76 734.2) rotate(-90)">8</text>
<text class="xl" transform="translate(71.75 734.2) rotate(-90)">9</text>
<text class="xl" transform="translate(76.74 734.2) rotate(-90)">10</text>
<text class="xl" transform="translate(81.73 734.2) rotate(-90)">11</text>
<text class="xl" transform="translate(86.72 734.2) rotate(-90)">12</text>
<text class="xl" transform="translate(91.71 734.2) rotate(-90)">13</text>
<text class="xl" transform="translate(96.69 734.2) rotate(-90)">14</text>
<text class="xl" transform="translate(101.68 734.2) rotate(-90)">15</text>
<text class="xl" transform="translate(106.67 734.2) rotate(-90)">16</text>
<text class="xl" transform="translate(111.66 734.2) rotate(-90)">17</text>
<text class="xl" transform="translate(116.65 734.2) rotate(-90)">18</text>
<text class="xl" transform="translate(121.64 734.2) rotate(-90)">19</text>
<text class="xl" transform="translate(126.63 734.2) rotate(-90)">20</text>
<text class="xl" transform="translate(131.62 734.2) rotate(-90)">21</text>
<text class="xl" transform="translate(136.61 734.2) rotate(-90)">22</text>
<text class="xl" transform="translate(141.59 734.2) rotate(-90)">23</text>
<text class="xl" transform="translate(146.58 734.2) rotate(-90)">24</text>
<text class="xl" transform="translate(151.57 734.2) rotate(-90)">25</text>
<text class="xl" transform="translate(156.56 734.2) rotate(-90)">26</text>
<text class="xl" transform="translate(161.55 734.2) rotate(-90)">27</text>
<text class="xl" transform="translate(166.54 734.2) rotate(-90)">28</text>
<text class="xl" transform="translate(171.53 734.2) rotate(-90)">29</text>
<text class="xl" transform="translate(176.52 734.2) rotate(-90)">30</text>
<text class="xl" transform="translate(181.51 734.2) rotate(-90)">31</text>
<text class="xl" transform="translate(186.49 734.2) rotate(-90)">32</text>
<text class="xl" transform="translate(191.48 734.2) rotate(-90)">33</text>
<text class="xl" transform="translate(196.47 734.2) rotate(-90)">34</text>
<text class="xl" transform="translate(201.46 734.2) rotate(-90)">35</text>
<text class="xl" transform="translate(206.45 734.2) rotate(-90)">36</text>
<text class="xl" transform="translate(211.44 734.2) rotate(-90)">37</text>
<text class="xl" transform="translate(216.43 734.2) rotate(-90)">38</text>
<text class="xl" transform="translate(221.42 734.2) rotate(-90)">39</text>
<text class="xl" transform="translate(226.41 734.2) rotate(-90)">40</text>
<text class="xl" transform="translate(231.39 734.2) rotate(-90)">41</text>
<text class="xl" transform="translate(236.38 734.2) rotate(-90)">42</text>
<text class="xl" transform="translate(246.36 734.5) rotate(-90)">NONE</text>
<text class="xt" x="137.35" y="750.8">RhD PEPTIDE STIMULUS</text>
<text class="pl" x="0.5" y="397.5">C</text>
</g>
<g>
<path class="fr" d="M293.1 399.7H518.5V730.1"/>
<path class="ax" d="M293.1 399.4V731.9"/>
<path class="ds" d="M293.9 477.6H517.9"/>
<path class="bl" d="M293.1 482.1H518.5"/>
<path class="tk" d="M298.11 482.1v1.9M303.12 482.1v1.9M308.13 482.1v1.9M313.14 482.1v1.9M318.14 482.1v1.9M323.15 482.1v1.9M328.16 482.1v1.9M333.17 482.1v1.9M338.18 482.1v1.9M343.19 482.1v1.9M348.2 482.1v1.9M353.21 482.1v1.9M358.22 482.1v1.9M363.22 482.1v1.9M368.23 482.1v1.9M373.24 482.1v1.9M378.25 482.1v1.9M383.26 482.1v1.9M388.27 482.1v1.9M393.28 482.1v1.9M398.29 482.1v1.9M403.3 482.1v1.9M408.3 482.1v1.9M413.31 482.1v1.9M418.32 482.1v1.9M423.33 482.1v1.9M428.34 482.1v1.9M433.35 482.1v1.9M438.36 482.1v1.9M443.37 482.1v1.9M448.38 482.1v1.9M453.38 482.1v1.9M458.39 482.1v1.9M463.4 482.1v1.9M468.41 482.1v1.9M473.42 482.1v1.9M478.43 482.1v1.9M483.44 482.1v1.9M488.45 482.1v1.9M493.46 482.1v1.9M498.46 482.1v1.9M503.47 482.1v1.9M513.49 482.1v1.9"/>
<path class="b" d="M296.41 478.35h3.4v3.75h-3.4zM301.42 407.6h3.4v74.5h-3.4zM306.43 469.85h3.4v12.25h-3.4zM311.44 479.1h3.4v3h-3.4zM316.44 479.85h3.4v2.25h-3.4zM321.45 479.35h3.4v2.75h-3.4zM326.46 476.85h3.4v5.25h-3.4zM331.47 476.1h3.4v6h-3.4zM336.48 475.1h3.4v7h-3.4zM341.49 475.35h3.4v6.75h-3.4zM346.5 475.1h3.4v7h-3.4zM351.51 478.85h3.4v3.25h-3.4zM356.52 479.6h3.4v2.5h-3.4zM361.52 474.85h3.4v7.25h-3.4zM366.53 476.1h3.4v6h-3.4zM371.54 479.1h3.4v3h-3.4zM376.55 478.35h3.4v3.75h-3.4zM381.56 478.6h3.4v3.5h-3.4zM386.57 479.35h3.4v2.75h-3.4zM391.58 480.1h3.4v2h-3.4zM396.59 479.6h3.4v2.5h-3.4zM401.6 477.1h3.4v5h-3.4zM406.6 478.1h3.4v4h-3.4zM411.61 478.1h3.4v4h-3.4zM416.62 478.6h3.4v3.5h-3.4zM421.63 473.85h3.4v8.25h-3.4zM426.64 478.85h3.4v3.25h-3.4zM431.65 480.1h3.4v2h-3.4zM436.66 479.85h3.4v2.25h-3.4zM441.67 481.1h3.4v1h-3.4zM446.68 480.35h3.4v1.75h-3.4zM451.68 480.1h3.4v2h-3.4zM456.69 480.1h3.4v2h-3.4zM461.7 479.35h3.4v2.75h-3.4zM466.71 480.1h3.4v2h-3.4zM471.72 481.1h3.4v1h-3.4zM476.73 481.6h3.4v0.5h-3.4zM481.74 480.35h3.4v1.75h-3.4zM486.75 478.85h3.4v3.25h-3.4zM491.76 479.6h3.4v2.5h-3.4zM496.76 480.1h3.4v2h-3.4zM501.77 480.1h3.4v2h-3.4z"/>
<rect class="nb" x="512.09" y="481.6" width="2.8" height="0.5"/>
<path class="yt" d="M291.3 411.6h1.8"/>
<text class="tl" x="288.9" y="413.25">3</text>
<path class="yt" d="M291.3 435.1h1.8"/>
<text class="tl" x="288.9" y="436.75">2</text>
<path class="yt" d="M291.3 458.5h1.8"/>
<text class="tl" x="288.9" y="460.15">1</text>
<path class="yt" d="M291.3 482h1.8"/>
<text class="tl" x="288.9" y="483.65">0</text>
<path class="ds" d="M293.9 542.1H517.9"/>
<path class="bl" d="M293.1 565.1H518.5"/>
<path class="tk" d="M298.11 565.1v1.9M303.12 565.1v1.9M308.13 565.1v1.9M313.14 565.1v1.9M318.14 565.1v1.9M323.15 565.1v1.9M328.16 565.1v1.9M333.17 565.1v1.9M338.18 565.1v1.9M343.19 565.1v1.9M348.2 565.1v1.9M353.21 565.1v1.9M358.22 565.1v1.9M363.22 565.1v1.9M368.23 565.1v1.9M373.24 565.1v1.9M378.25 565.1v1.9M383.26 565.1v1.9M388.27 565.1v1.9M393.28 565.1v1.9M398.29 565.1v1.9M403.3 565.1v1.9M408.3 565.1v1.9M413.31 565.1v1.9M418.32 565.1v1.9M423.33 565.1v1.9M428.34 565.1v1.9M433.35 565.1v1.9M438.36 565.1v1.9M443.37 565.1v1.9M448.38 565.1v1.9M453.38 565.1v1.9M458.39 565.1v1.9M463.4 565.1v1.9M468.41 565.1v1.9M473.42 565.1v1.9M478.43 565.1v1.9M483.44 565.1v1.9M488.45 565.1v1.9M493.46 565.1v1.9M498.46 565.1v1.9M503.47 565.1v1.9M513.49 565.1v1.9"/>
<path class="b" d="M296.41 558.1h3.4v7h-3.4zM301.42 554.85h3.4v10.25h-3.4zM306.43 556.85h3.4v8.25h-3.4zM311.44 555.1h3.4v10h-3.4zM316.44 554.85h3.4v10.25h-3.4zM321.45 554.85h3.4v10.25h-3.4zM326.46 555.6h3.4v9.5h-3.4zM331.47 559.6h3.4v5.5h-3.4zM336.48 554.85h3.4v10.25h-3.4zM341.49 556.35h3.4v8.75h-3.4zM346.5 557.85h3.4v7.25h-3.4zM351.51 552.6h3.4v12.5h-3.4zM356.52 559.85h3.4v5.25h-3.4zM361.52 555.1h3.4v10h-3.4zM366.53 555.1h3.4v10h-3.4zM371.54 558.35h3.4v6.75h-3.4zM376.55 557.6h3.4v7.5h-3.4zM381.56 539.85h3.4v25.25h-3.4zM386.57 562.35h3.4v2.75h-3.4zM391.58 556.85h3.4v8.25h-3.4zM396.59 561.35h3.4v3.75h-3.4zM401.6 556.1h3.4v9h-3.4zM406.6 558.85h3.4v6.25h-3.4zM411.61 562.35h3.4v2.75h-3.4zM416.62 562.1h3.4v3h-3.4zM431.65 557.85h3.4v7.25h-3.4zM436.66 562.1h3.4v3h-3.4zM441.67 554.1h3.4v11h-3.4zM471.72 558.6h3.4v6.5h-3.4zM476.73 556.6h3.4v8.5h-3.4zM481.74 557.35h3.4v7.75h-3.4zM486.75 544.1h3.4v21h-3.4zM491.76 556.1h3.4v9h-3.4zM496.76 554.35h3.4v10.75h-3.4zM501.77 556.6h3.4v8.5h-3.4z"/>
<rect class="nb" x="512.09" y="554.6" width="2.8" height="10.5"/>
<path class="yt" d="M291.3 502.1h1.8"/>
<text class="tl" x="288.9" y="503.75">60</text>
<path class="yt" d="M291.3 522.9h1.8"/>
<text class="tl" x="288.9" y="524.55">40</text>
<path class="yt" d="M291.3 544.2h1.8"/>
<text class="tl" x="288.9" y="545.85">20</text>
<path class="yt" d="M291.3 565.1h1.8"/>
<text class="tl" x="288.9" y="566.75">0</text>
<path class="ds" d="M293.9 625.6H517.9"/>
<path class="bl" d="M293.1 647.6H518.5"/>
<path class="tk" d="M298.11 647.6v1.9M303.12 647.6v1.9M308.13 647.6v1.9M313.14 647.6v1.9M318.14 647.6v1.9M323.15 647.6v1.9M328.16 647.6v1.9M333.17 647.6v1.9M338.18 647.6v1.9M343.19 647.6v1.9M348.2 647.6v1.9M353.21 647.6v1.9M358.22 647.6v1.9M363.22 647.6v1.9M368.23 647.6v1.9M373.24 647.6v1.9M378.25 647.6v1.9M383.26 647.6v1.9M388.27 647.6v1.9M393.28 647.6v1.9M398.29 647.6v1.9M403.3 647.6v1.9M408.3 647.6v1.9M413.31 647.6v1.9M418.32 647.6v1.9M423.33 647.6v1.9M428.34 647.6v1.9M433.35 647.6v1.9M438.36 647.6v1.9M443.37 647.6v1.9M448.38 647.6v1.9M453.38 647.6v1.9M458.39 647.6v1.9M463.4 647.6v1.9M468.41 647.6v1.9M473.42 647.6v1.9M478.43 647.6v1.9M483.44 647.6v1.9M488.45 647.6v1.9M493.46 647.6v1.9M498.46 647.6v1.9M503.47 647.6v1.9M513.49 647.6v1.9"/>
<path class="b" d="M296.41 637.6h3.4v10h-3.4zM301.42 637.1h3.4v10.5h-3.4zM306.43 637.1h3.4v10.5h-3.4zM311.44 637.1h3.4v10.5h-3.4zM316.44 638.85h3.4v8.75h-3.4zM321.45 638.35h3.4v9.25h-3.4zM326.46 638.35h3.4v9.25h-3.4zM331.47 638.6h3.4v9h-3.4zM336.48 639.35h3.4v8.25h-3.4zM341.49 638.6h3.4v9h-3.4zM346.5 638.35h3.4v9.25h-3.4zM351.51 637.35h3.4v10.25h-3.4zM356.52 638.35h3.4v9.25h-3.4zM361.52 639.1h3.4v8.5h-3.4zM366.53 638.6h3.4v9h-3.4zM371.54 637.6h3.4v10h-3.4zM376.55 638.1h3.4v9.5h-3.4zM381.56 637.35h3.4v10.25h-3.4zM386.57 638.1h3.4v9.5h-3.4zM391.58 637.1h3.4v10.5h-3.4zM396.59 640.1h3.4v7.5h-3.4zM401.6 637.85h3.4v9.75h-3.4zM406.6 638.1h3.4v9.5h-3.4zM411.61 638.6h3.4v9h-3.4zM416.62 638.6h3.4v9h-3.4zM421.63 638.1h3.4v9.5h-3.4zM426.64 638.1h3.4v9.5h-3.4zM431.65 637.6h3.4v10h-3.4zM436.66 638.6h3.4v9h-3.4zM441.67 638.6h3.4v9h-3.4zM446.68 638.35h3.4v9.25h-3.4zM451.68 638.6h3.4v9h-3.4zM456.69 638.35h3.4v9.25h-3.4zM461.7 637.35h3.4v10.25h-3.4zM466.71 638.1h3.4v9.5h-3.4zM471.72 638.35h3.4v9.25h-3.4zM476.73 639.35h3.4v8.25h-3.4zM481.74 640.1h3.4v7.5h-3.4zM486.75 637.6h3.4v10h-3.4zM491.76 638.6h3.4v9h-3.4zM496.76 637.1h3.4v10.5h-3.4zM501.77 638.6h3.4v9h-3.4z"/>
<rect class="nb" x="512.09" y="639.35" width="2.8" height="8.25"/>
<path class="yt" d="M291.3 590.3h1.8"/>
<text class="tr" transform="translate(289.1 590.3) rotate(-90)">2</text>
<path class="yt" d="M291.3 618.9h1.8"/>
<text class="tr" transform="translate(289.1 618.9) rotate(-90)">1</text>
<path class="yt" d="M291.3 647.5h1.8"/>
<text class="tl" x="288.9" y="649.15">0</text>
<path class="ds" d="M293.9 699.6H517.9"/>
<path class="bl" d="M293.1 730.1H518.5"/>
<path class="tk" d="M298.11 730.1v1.9M303.12 730.1v1.9M308.13 730.1v1.9M313.14 730.1v1.9M318.14 730.1v1.9M323.15 730.1v1.9M328.16 730.1v1.9M333.17 730.1v1.9M338.18 730.1v1.9M343.19 730.1v1.9M348.2 730.1v1.9M353.21 730.1v1.9M358.22 730.1v1.9M363.22 730.1v1.9M368.23 730.1v1.9M373.24 730.1v1.9M378.25 730.1v1.9M383.26 730.1v1.9M388.27 730.1v1.9M393.28 730.1v1.9M398.29 730.1v1.9M403.3 730.1v1.9M408.3 730.1v1.9M413.31 730.1v1.9M418.32 730.1v1.9M423.33 730.1v1.9M428.34 730.1v1.9M433.35 730.1v1.9M438.36 730.1v1.9M443.37 730.1v1.9M448.38 730.1v1.9M453.38 730.1v1.9M458.39 730.1v1.9M463.4 730.1v1.9M468.41 730.1v1.9M473.42 730.1v1.9M478.43 730.1v1.9M483.44 730.1v1.9M488.45 730.1v1.9M493.46 730.1v1.9M498.46 730.1v1.9M503.47 730.1v1.9M513.49 730.1v1.9"/>
<path class="b" d="M296.41 723.85h3.4v6.25h-3.4zM301.42 721.35h3.4v8.75h-3.4zM306.43 721.85h3.4v8.25h-3.4zM311.44 721.85h3.4v8.25h-3.4zM316.44 724.35h3.4v5.75h-3.4zM321.45 726.1h3.4v4h-3.4zM326.46 726.35h3.4v3.75h-3.4zM331.47 722.6h3.4v7.5h-3.4zM336.48 724.1h3.4v6h-3.4zM341.49 726.1h3.4v4h-3.4zM346.5 725.6h3.4v4.5h-3.4zM351.51 715.1h3.4v15h-3.4zM356.52 725.35h3.4v4.75h-3.4zM361.52 724.35h3.4v5.75h-3.4zM366.53 726.6h3.4v3.5h-3.4zM371.54 723.6h3.4v6.5h-3.4zM376.55 725.6h3.4v4.5h-3.4zM381.56 719.85h3.4v10.25h-3.4zM386.57 727.6h3.4v2.5h-3.4zM391.58 724.85h3.4v5.25h-3.4zM396.59 727.1h3.4v3h-3.4zM401.6 721.1h3.4v9h-3.4zM406.6 725.85h3.4v4.25h-3.4zM411.61 726.1h3.4v4h-3.4zM416.62 722.6h3.4v7.5h-3.4zM421.63 727.1h3.4v3h-3.4zM426.64 726.6h3.4v3.5h-3.4zM431.65 724.6h3.4v5.5h-3.4zM436.66 724.1h3.4v6h-3.4zM441.67 713.35h3.4v16.75h-3.4zM446.68 725.85h3.4v4.25h-3.4zM451.68 724.85h3.4v5.25h-3.4zM456.69 724.1h3.4v6h-3.4zM461.7 726.85h3.4v3.25h-3.4zM466.71 723.85h3.4v6.25h-3.4zM471.72 724.85h3.4v5.25h-3.4zM476.73 724.85h3.4v5.25h-3.4zM481.74 727.1h3.4v3h-3.4zM486.75 724.6h3.4v5.5h-3.4zM491.76 724.6h3.4v5.5h-3.4zM496.76 721.6h3.4v8.5h-3.4zM501.77 726.1h3.4v4h-3.4z"/>
<rect class="nb" x="512.09" y="721.6" width="2.8" height="8.5"/>
<path class="yt" d="M291.3 660.4h1.8"/>
<text class="tl" x="288.9" y="662.05">5</text>
<path class="yt" d="M291.3 674.3h1.8"/>
<text class="tl" x="288.9" y="675.95">4</text>
<path class="yt" d="M291.3 688.3h1.8"/>
<text class="tl" x="288.9" y="689.95">3</text>
<path class="yt" d="M291.3 702.1h1.8"/>
<text class="tl" x="288.9" y="703.75">2</text>
<path class="yt" d="M291.3 716.2h1.8"/>
<text class="tl" x="288.9" y="717.85">1</text>
<path class="yt" d="M291.3 730.1h1.8"/>
<text class="tl" x="288.9" y="731.75">0</text>
<path class="eb" d="M298.11 723.85v-1.75m-1.3 0h2.6M303.12 721.35v-0.75m-1.3 0h2.6M308.13 721.85v-4m-1.3 0h2.6M318.14 724.35v-1m-1.3 0h2.6M333.17 722.6v-1.25m-1.3 0h2.6M348.2 725.6v-1.25m-1.3 0h2.6M353.21 715.1v-2.75m-1.3 0h2.6M383.26 719.85v-2.75m-1.3 0h2.6M438.36 724.1v-1m-1.3 0h2.6M443.37 713.35v-1.75m-1.3 0h2.6M458.39 724.1v-1.75m-1.3 0h2.6M498.46 721.6v-1m-1.3 0h2.6M513.49 721.6v-1.25m-1.3 0h2.6"/>
<text class="yl" transform="translate(274.7 439) rotate(-90)">IL-10 PRODUCTION</text>
<text class="yl" transform="translate(281.5 439) rotate(-90)">(ng/mL)</text>
<text class="yl" transform="translate(274.7 522.7) rotate(-90)">TGF-β1 PRODUCTION</text>
<text class="yl" transform="translate(281.5 522.7) rotate(-90)">(pg/mL)</text>
<text class="yl" transform="translate(274.7 601.4) rotate(-90)">IFN-γ PRODUCTION</text>
<text class="yl" transform="translate(281.5 601.4) rotate(-90)">(ng/mL)</text>
<text class="yl" transform="translate(275.4 689) rotate(-90)"><tspan class="su" dy="-1.8">3</tspan><tspan dy="1.8">H-THYMIDINE INCORPORATION</tspan></text>
<text class="yl" transform="translate(282.7 689) rotate(-90)">MEAN CPM x10<tspan class="su" dy="-1.8">-3</tspan><tspan dy="1.8"> +/-SD</tspan></text>
<text class="xl" transform="translate(299.86 734.8) rotate(-90)">1</text>
<text class="xl" transform="translate(304.87 734.8) rotate(-90)">2</text>
<text class="xl" transform="translate(309.88 734.8) rotate(-90)">3</text>
<text class="xl" transform="translate(314.89 734.8) rotate(-90)">4</text>
<text class="xl" transform="translate(319.89 734.8) rotate(-90)">5</text>
<text class="xl" transform="translate(324.9 734.8) rotate(-90)">6</text>
<text class="xl" transform="translate(329.91 734.8) rotate(-90)">7</text>
<text class="xl" transform="translate(334.92 734.8) rotate(-90)">8</text>
<text class="xl" transform="translate(339.93 734.8) rotate(-90)">9</text>
<text class="xl" transform="translate(344.94 734.8) rotate(-90)">10</text>
<text class="xl" transform="translate(349.95 734.8) rotate(-90)">11</text>
<text class="xl" transform="translate(354.96 734.8) rotate(-90)">12</text>
<text class="xl" transform="translate(359.97 734.8) rotate(-90)">13</text>
<text class="xl" transform="translate(364.97 734.8) rotate(-90)">14</text>
<text class="xl" transform="translate(369.98 734.8) rotate(-90)">15</text>
<text class="xl" transform="translate(374.99 734.8) rotate(-90)">16</text>
<text class="xl" transform="translate(380 734.8) rotate(-90)">17</text>
<text class="xl" transform="translate(385.01 734.8) rotate(-90)">18</text>
<text class="xl" transform="translate(390.02 734.8) rotate(-90)">19</text>
<text class="xl" transform="translate(395.03 734.8) rotate(-90)">20</text>
<text class="xl" transform="translate(400.04 734.8) rotate(-90)">21</text>
<text class="xl" transform="translate(405.05 734.8) rotate(-90)">22</text>
<text class="xl" transform="translate(410.05 734.8) rotate(-90)">23</text>
<text class="xl" transform="translate(415.06 734.8) rotate(-90)">24</text>
<text class="xl" transform="translate(420.07 734.8) rotate(-90)">25</text>
<text class="xl" transform="translate(425.08 734.8) rotate(-90)">26</text>
<text class="xl" transform="translate(430.09 734.8) rotate(-90)">27</text>
<text class="xl" transform="translate(435.1 734.8) rotate(-90)">28</text>
<text class="xl" transform="translate(440.11 734.8) rotate(-90)">29</text>
<text class="xl" transform="translate(445.12 734.8) rotate(-90)">30</text>
<text class="xl" transform="translate(450.13 734.8) rotate(-90)">31</text>
<text class="xl" transform="translate(455.13 734.8) rotate(-90)">32</text>
<text class="xl" transform="translate(460.14 734.8) rotate(-90)">33</text>
<text class="xl" transform="translate(465.15 734.8) rotate(-90)">34</text>
<text class="xl" transform="translate(470.16 734.8) rotate(-90)">35</text>
<text class="xl" transform="translate(475.17 734.8) rotate(-90)">36</text>
<text class="xl" transform="translate(480.18 734.8) rotate(-90)">37</text>
<text class="xl" transform="translate(485.19 734.8) rotate(-90)">38</text>
<text class="xl" transform="translate(490.2 734.8) rotate(-90)">39</text>
<text class="xl" transform="translate(495.21 734.8) rotate(-90)">40</text>
<text class="xl" transform="translate(500.21 734.8) rotate(-90)">41</text>
<text class="xl" transform="translate(505.22 734.8) rotate(-90)">42</text>
<text class="xl" transform="translate(515.24 735.1) rotate(-90)">NONE</text>
<text class="xt" x="405.8" y="753.3">RhD PEPTIDE STIMULUS</text>
<text class="pl" x="270.3" y="397.5">D</text>
</g>
</svg>
</body>
</html>
